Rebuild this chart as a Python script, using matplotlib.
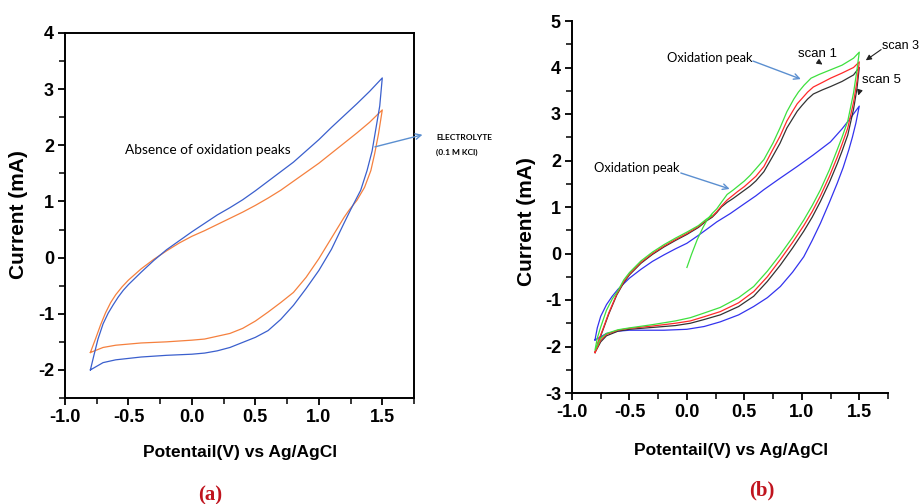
import numpy as np
import matplotlib
matplotlib.use("Agg")
import matplotlib.pyplot as plt
from matplotlib.ticker import MultipleLocator, FormatStrFormatter

plt.rcParams['axes.unicode_minus'] = False

# ---- panel (a): electrolyte (0.1 M KCl) CVs ----
a_blue_x = [-0.8, -0.77, -0.74, -0.7, -0.66, -0.62, -0.58, -0.54, -0.5, -0.45, -0.4, -0.3, -0.2, -0.1, 0.0,
            0.1, 0.2, 0.3, 0.4, 0.5, 0.6, 0.7, 0.8, 0.9, 1.0, 1.1, 1.2, 1.3, 1.4, 1.5,
            1.48, 1.45, 1.42, 1.38, 1.33, 1.25, 1.2, 1.1, 1.0, 0.9, 0.8, 0.7, 0.6, 0.5, 0.4, 0.3,
            0.2, 0.1, 0.0, -0.2, -0.4, -0.6, -0.7, -0.8]
a_blue_y = [-2.0, -1.72, -1.45, -1.18, -0.99, -0.84, -0.7, -0.58, -0.48, -0.37, -0.26, -0.05, 0.14, 0.3, 0.46,
            0.61, 0.76, 0.89, 1.03, 1.19, 1.36, 1.53, 1.7, 1.9, 2.1, 2.32, 2.53, 2.74, 2.96, 3.2,
            2.7, 2.3, 1.9, 1.55, 1.2, 0.85, 0.62, 0.15, -0.23, -0.55, -0.85, -1.1, -1.3, -1.42, -1.51, -1.6,
            -1.66, -1.7, -1.72, -1.74, -1.77, -1.82, -1.87, -2.0]

a_orange_x = [-0.8, -0.76, -0.72, -0.68, -0.64, -0.6, -0.55, -0.5, -0.4, -0.3, -0.2, -0.1, 0.0, 0.1, 0.2,
              0.3, 0.4, 0.5, 0.6, 0.7, 0.8, 0.9, 1.0, 1.1, 1.2, 1.3, 1.4, 1.5,
              1.47, 1.44, 1.41, 1.36, 1.3, 1.24, 1.2, 1.1, 1.0, 0.9, 0.8, 0.7, 0.6, 0.5, 0.4, 0.3,
              0.2, 0.1, 0.0, -0.2, -0.4, -0.6, -0.7, -0.8]
a_orange_y = [-1.69, -1.45, -1.2, -0.98, -0.8, -0.66, -0.52, -0.4, -0.2, -0.03, 0.12, 0.26, 0.38, 0.48, 0.59,
              0.7, 0.81, 0.93, 1.06, 1.2, 1.36, 1.52, 1.68, 1.86, 2.04, 2.22, 2.41, 2.63,
              2.2, 1.85, 1.55, 1.25, 1.02, 0.85, 0.72, 0.35, -0.02, -0.35, -0.62, -0.8, -0.97, -1.13, -1.26, -1.35,
              -1.4, -1.45, -1.47, -1.5, -1.52, -1.56, -1.6, -1.69]

# ---- panel (b): scans 1, 3, 5 and electrolyte ----
b_green_x = [0.0, 0.04, 0.09, 0.14, 0.18, 0.22, 0.26, 0.3, 0.35, 0.4, 0.45, 0.5, 0.55, 0.6, 0.67, 0.75,
             0.81, 0.87, 0.93, 0.97, 1.02, 1.08, 1.15, 1.25, 1.35, 1.45, 1.5,
             1.48, 1.45, 1.4, 1.35, 1.308, 1.24, 1.162, 1.09, 1.017, 0.92, 0.813, 0.7, 0.581, 0.45, 0.29,
             0.15, 0.03, -0.1, -0.3, -0.5, -0.6, -0.7, -0.75, -0.8,
             -0.78, -0.75, -0.7, -0.65, -0.6, -0.55, -0.5, -0.4, -0.3, -0.2, -0.1, 0.0, 0.1, 0.17, 0.22]
b_green_y = [-0.3, -0.02, 0.3, 0.56, 0.74, 0.86, 0.96, 1.1, 1.27, 1.36, 1.46, 1.56, 1.68, 1.82, 2.02, 2.38,
             2.7, 3.05, 3.32, 3.47, 3.62, 3.77, 3.85, 3.95, 4.05, 4.2, 4.33,
             3.95, 3.45, 2.85, 2.5, 2.23, 1.8, 1.37, 1.03, 0.72, 0.35, -0.02, -0.38, -0.71, -0.95, -1.16,
             -1.28, -1.38, -1.45, -1.53, -1.6, -1.64, -1.72, -1.82, -2.08,
             -1.82, -1.58, -1.22, -0.98, -0.8, -0.57, -0.41, -0.16, 0.03, 0.19, 0.33, 0.46, 0.6, 0.74, 0.82]

b_red_x = [-0.8, -0.77, -0.73, -0.68, -0.61, -0.55, -0.5, -0.4, -0.3, -0.2, -0.1, 0.0, 0.1, 0.17, 0.22,
           0.26, 0.3, 0.35, 0.4, 0.44, 0.5, 0.55, 0.6, 0.67, 0.74, 0.81, 0.87, 0.93, 0.96, 1.0, 1.05,
           1.1, 1.18, 1.25, 1.35, 1.45, 1.5,
           1.48, 1.45, 1.4, 1.35, 1.308, 1.24, 1.162, 1.09, 1.017, 0.92, 0.813, 0.7, 0.581, 0.45, 0.29,
           0.15, 0.03, -0.1, -0.3, -0.5, -0.6, -0.7, -0.75, -0.8]
b_red_y = [-2.13, -1.88, -1.62, -1.28, -0.87, -0.61, -0.44, -0.19, 0.0, 0.16, 0.3, 0.43, 0.58, 0.72, 0.8,
           0.9, 1.02, 1.15, 1.25, 1.33, 1.44, 1.55, 1.66, 1.87, 2.2, 2.52, 2.85, 3.1, 3.22, 3.33, 3.47,
           3.58, 3.68, 3.77, 3.88, 4.0, 4.12,
           3.7, 3.25, 2.7, 2.35, 2.07, 1.66, 1.24, 0.9, 0.6, 0.24, -0.13, -0.5, -0.82, -1.06, -1.25,
           -1.36, -1.45, -1.5, -1.56, -1.61, -1.65, -1.74, -1.86, -2.13]

b_black_x = [-0.8, -0.77, -0.73, -0.68, -0.61, -0.55, -0.5, -0.4, -0.3, -0.2, -0.1, 0.0, 0.1, 0.17, 0.22,
             0.26, 0.3, 0.35, 0.4, 0.45, 0.5, 0.55, 0.6, 0.67, 0.74, 0.81, 0.87, 0.93, 0.96, 1.0, 1.05,
             1.1, 1.18, 1.25, 1.35, 1.45, 1.5,
             1.48, 1.45, 1.4, 1.35, 1.308, 1.24, 1.162, 1.09, 1.017, 0.92, 0.813, 0.7, 0.581, 0.45, 0.29,
             0.15, 0.03, -0.1, -0.3, -0.5, -0.6, -0.7, -0.75, -0.8]
b_black_y = [-2.13, -1.9, -1.64, -1.3, -0.89, -0.63, -0.46, -0.21, -0.02, 0.14, 0.28, 0.41, 0.56, 0.7, 0.78,
             0.88, 1.0, 1.1, 1.18, 1.27, 1.36, 1.45, 1.56, 1.76, 2.06, 2.37, 2.7, 2.94, 3.06, 3.18, 3.32,
             3.43, 3.52, 3.59, 3.7, 3.84, 4.0,
             3.55, 3.1, 2.55, 2.2, 1.93, 1.53, 1.12, 0.78, 0.48, 0.12, -0.25, -0.6, -0.92, -1.14, -1.32,
             -1.42, -1.5, -1.55, -1.59, -1.63, -1.67, -1.77, -1.9, -2.13]

b_blue_x = [-0.8, -0.78, -0.75, -0.7, -0.65, -0.6, -0.5, -0.4, -0.3, -0.2, -0.1, 0.0, 0.1, 0.2, 0.26,
            0.378, 0.5, 0.6, 0.668, 0.8, 0.959, 1.1, 1.249, 1.35, 1.42, 1.5,
            1.47, 1.44, 1.409, 1.36, 1.308, 1.24, 1.162, 1.09, 1.017, 0.92, 0.813, 0.7, 0.581, 0.45,
            0.29, 0.15, 0.0, -0.2, -0.4, -0.5, -0.6, -0.7, -0.8]
b_blue_y = [-1.86, -1.6, -1.35, -1.1, -0.92, -0.77, -0.53, -0.34, -0.17, -0.03, 0.1, 0.22, 0.39, 0.57, 0.68,
            0.86, 1.07, 1.24, 1.37, 1.6, 1.87, 2.12, 2.4, 2.68, 2.9, 3.17,
            2.8, 2.5, 2.23, 1.85, 1.51, 1.1, 0.65, 0.28, -0.07, -0.4, -0.71, -0.95, -1.14, -1.32,
            -1.47, -1.57, -1.63, -1.65, -1.65, -1.65, -1.67, -1.72, -1.86]

x_ticks = [-1.0, -0.5, 0.0, 0.5, 1.0, 1.5]
a_y_ticks = [-2, -1, 0, 1, 2, 3, 4]
b_y_ticks = [-3, -2, -1, 0, 1, 2, 3, 4, 5]

SANS = ['Liberation Sans', 'DejaVu Sans']
NOTE = ['Lato', 'DejaVu Sans']
SERIF = ['Liberation Serif', 'DejaVu Serif']

W, H = 919, 504
fig = plt.figure(figsize=(W / 100, H / 100), dpi=100)


def px_axes(l, t, r, b):
    return fig.add_axes([l / W, 1 - b / H, (r - l) / W, (b - t) / H])


def style(ax, yticks, ylim):
    ax.set_xlim(-1.0, 1.75)
    ax.set_ylim(*ylim)
    ax.set_xticks(x_ticks)
    ax.set_yticks(yticks)
    ax.xaxis.set_minor_locator(MultipleLocator(0.25))
    ax.yaxis.set_minor_locator(MultipleLocator(0.5))
    ax.xaxis.set_major_formatter(FormatStrFormatter('%.1f'))
    ax.tick_params(which='major', direction='out', length=5, width=1.3, pad=3)
    ax.tick_params(which='minor', direction='out', length=4, width=1.1)
    for lab in ax.get_xticklabels() + ax.get_yticklabels():
        lab.set_family(SANS)
        lab.set_fontweight('bold')
        lab.set_fontsize(13)
    for s in ax.spines.values():
        s.set_linewidth(1.4)


# (a)
ax1 = px_axes(65, 33, 414, 398)
ax1.plot(a_orange_x, a_orange_y, color='#f5803e', lw=0.9)
ax1.plot(a_blue_x, a_blue_y, color='#3a5fcd', lw=0.9)
style(ax1, a_y_ticks, (-2.5, 4))
ax1.tick_params(top=False, right=False)
ax1.text(-0.528, 1.91, 'Absence of oxidation peaks', family=NOTE, fontsize=9.8, va='center')
ax1.annotate('', xy=(1.838, 2.20), xytext=(1.421, 1.96), annotation_clip=False,
             arrowprops=dict(arrowstyle='->', color='#5b8fd0', lw=1.0))
ax1.text(1.925, 2.14, 'ELECTROLYTE', family=NOTE, fontsize=6, fontweight='bold', va='center', clip_on=False)
ax1.text(1.925, 1.875, '(0.1 M KCl)', family=NOTE, fontsize=6, fontweight='bold', va='center', clip_on=False)

# (b)
ax2 = px_axes(572, 21, 888, 393)
ax2.plot(b_blue_x, b_blue_y, color='#3333ee', lw=0.9)
ax2.plot(b_black_x, b_black_y, color='#333333', lw=0.9)
ax2.plot(b_red_x, b_red_y, color='#ff2a2a', lw=0.9)
ax2.plot(b_green_x, b_green_y, color='#3ee03e', lw=0.9)
style(ax2, b_y_ticks, (-3, 5))
ax2.spines['top'].set_visible(False)
ax2.spines['right'].set_visible(False)

arrow_blue = dict(arrowstyle='->', color='#5b8fd0', lw=1.0)
arrow_black = dict(arrowstyle='-|>', color='#222222', lw=0.8, mutation_scale=8)
ax2.text(-0.172, 4.2, 'Oxidation peak', family=NOTE, fontsize=9.3, va='center')
ax2.annotate('', xy=(1.014, 3.73), xytext=(0.552, 4.16), arrowprops=arrow_blue)
ax2.text(-0.808, 1.84, 'Oxidation peak', family=NOTE, fontsize=9.3, va='center')
ax2.annotate('', xy=(0.395, 1.37), xytext=(-0.076, 1.75), arrowprops=arrow_blue)
ax2.text(0.97, 4.29, 'scan 1', family=SANS, fontsize=9.5, va='center')
ax2.annotate('', xy=(1.2, 4.03), xytext=(1.14, 4.13), arrowprops=arrow_black)
ax2.text(1.70, 4.47, 'scan 3', family=SANS, fontsize=9, va='center', clip_on=False)
ax2.annotate('', xy=(1.537, 4.12), xytext=(1.71, 4.42), annotation_clip=False, arrowprops=arrow_black)
ax2.text(1.528, 3.74, 'scan 5', family=SANS, fontsize=9.5, va='center')
ax2.annotate('', xy=(1.485, 3.34), xytext=(1.51, 3.56), arrowprops=arrow_black)

# axis labels and panel letters
for xc, yc in [(19, 215), (527, 222)]:
    fig.text(xc / W, 1 - yc / H, 'Current (mA)', rotation=90, ha='center', va='center',
             family=SANS, fontweight='bold', fontsize=15)
for xc, yc in [(240, 453), (731, 451)]:
    fig.text(xc / W, 1 - yc / H, 'Potentail(V) vs Ag/AgCl', ha='center', va='center',
             family=SANS, fontweight='bold', fontsize=12.5)
fig.text(210 / W, 1 - 495 / H, '(a)', ha='center', va='center', family=SERIF,
         fontweight='bold', fontsize=15, color='#c0141e')
fig.text(762 / W, 1 - 490 / H, '(b)', ha='center', va='center', family=SERIF,
         fontweight='bold', fontsize=15, color='#c0141e')

fig.savefig('out.png', dpi=100)
